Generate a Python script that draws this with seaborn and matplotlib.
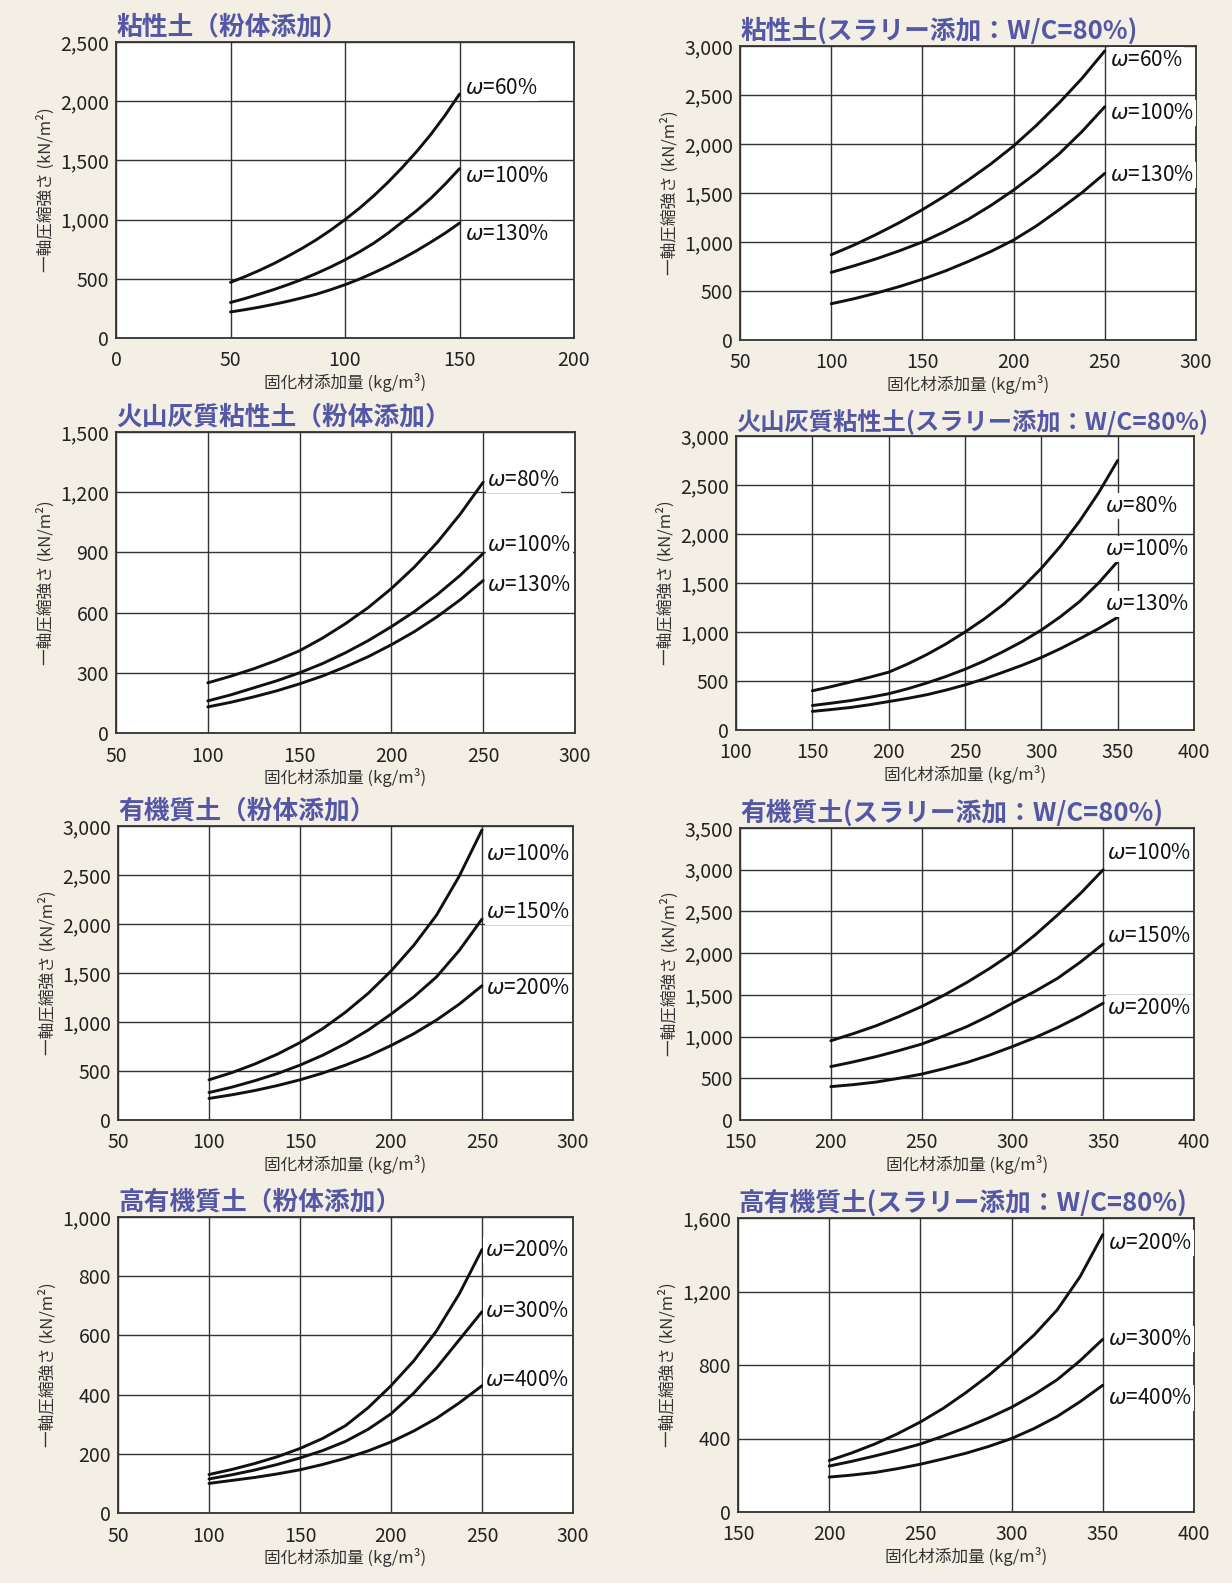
import matplotlib
matplotlib.use("Agg")
import matplotlib.pyplot as plt
import seaborn as sns
import pandas as pd
from matplotlib.ticker import FuncFormatter, MultipleLocator

# ---------------- data ----------------
# Panel 1: 粘性土（粉体添加）
p1_title = "粘性土（粉体添加）"
p1_x = [50, 56.25, 62.5, 68.75, 75, 81.25, 87.5, 93.75, 100,
        106.25, 112.5, 118.75, 125, 131.25, 137.5, 143.75, 150]
p1_w60 = [470, 518, 570, 627, 690, 757, 830, 911, 1000,
          1095, 1200, 1315, 1440, 1574, 1720, 1882, 2060]
p1_w100 = [300, 333, 370, 408, 450, 495, 545, 600, 660,
           727, 800, 885, 980, 1075, 1180, 1300, 1430]
p1_w130 = [220, 239, 260, 284, 310, 339, 370, 408, 450,
           497, 550, 607, 670, 737, 810, 886, 970]
p1_names = ["60%", "100%", "130%"]

# Panel 2: 粘性土(スラリー添加：W/C=80%)
p2_title = "粘性土(スラリー添加：W/C=80%)"
p2_x = [100, 112.5, 125, 137.5, 150, 162.5, 175, 187.5, 200, 212.5, 225, 237.5, 250]
p2_w60 = [870, 969, 1080, 1199, 1330, 1472, 1630, 1796, 1980, 2190, 2420, 2670, 2950]
p2_w100 = [690, 757, 830, 911, 1000, 1109, 1230, 1372, 1530, 1705, 1900, 2127, 2380]
p2_w130 = [370, 421, 480, 546, 620, 704, 800, 903, 1020, 1164, 1330, 1504, 1700]
p2_names = ["60%", "100%", "130%"]

# Panel 3: 火山灰質粘性土（粉体添加）
p3_title = "火山灰質粘性土（粉体添加）"
p3_x = [100, 112.5, 125, 137.5, 150, 162.5, 175, 187.5, 200, 212.5, 225, 237.5, 250]
p3_w80 = [250, 283, 320, 362, 410, 473, 545, 626, 720, 827, 950, 1091, 1250]
p3_w100 = [160, 190, 225, 260, 300, 346, 400, 461, 530, 605, 690, 786, 895]
p3_w130 = [130, 153, 180, 210, 245, 284, 330, 381, 440, 505, 580, 664, 760]
p3_names = ["80%", "100%", "130%"]

# Panel 4: 火山灰質粘性土(スラリー添加：W/C=80%)
p4_title = "火山灰質粘性土(スラリー添加：W/C=80%)"
p4_x = [150, 162.5, 175, 187.5, 200, 212.5, 225, 237.5, 250,
        262.5, 275, 287.5, 300, 312.5, 325, 337.5, 350]
p4_w80 = [400, 443, 490, 538, 590, 674, 770, 878, 1000,
          1132, 1280, 1453, 1650, 1875, 2130, 2420, 2750]
p4_w100 = [250, 274, 300, 333, 370, 421, 480, 546, 620,
           704, 800, 903, 1020, 1156, 1310, 1500, 1720]
p4_w130 = [190, 209, 230, 258, 290, 323, 360, 407, 460,
           521, 590, 661, 740, 830, 930, 1034, 1150]
p4_names = ["80%", "100%", "130%"]

# Panel 5: 有機質土（粉体添加）
p5_title = "有機質土（粉体添加）"
p5_x = [100, 112.5, 125, 137.5, 150, 162.5, 175, 187.5, 200, 212.5, 225, 237.5, 250]
p5_w100 = [410, 483, 570, 671, 790, 932, 1100, 1293, 1520, 1782, 2090, 2488, 2960]
p5_w150 = [280, 335, 400, 473, 560, 661, 780, 918, 1080, 1256, 1460, 1730, 2050]
p5_w200 = [220, 257, 300, 351, 410, 479, 560, 652, 760, 880, 1020, 1182, 1370]
p5_names = ["100%", "150%", "200%"]

# Panel 6: 有機質土(スラリー添加：W/C=80%)
p6_title = "有機質土(スラリー添加：W/C=80%)"
p6_x = [200, 212.5, 225, 237.5, 250, 262.5, 275, 287.5, 300, 312.5, 325, 337.5, 350]
p6_w100 = [950, 1036, 1130, 1240, 1360, 1498, 1650, 1817, 2000, 2218, 2460, 2716, 3000]
p6_w150 = [640, 697, 760, 832, 910, 1010, 1120, 1252, 1400, 1543, 1700, 1894, 2110]
p6_w200 = [400, 424, 455, 500, 550, 616, 690, 779, 880, 988, 1110, 1247, 1400]
p6_names = ["100%", "150%", "200%"]

# Panel 7: 高有機質土（粉体添加）
p7_title = "高有機質土（粉体添加）"
p7_x = [100, 112.5, 125, 137.5, 150, 162.5, 175, 187.5, 200, 212.5, 225, 237.5, 250]
p7_w200 = [130, 147, 167, 190, 218, 252, 295, 356, 430, 514, 615, 740, 890]
p7_w300 = [115, 129, 145, 164, 186, 211, 242, 283, 335, 405, 490, 585, 680]
p7_w400 = [100, 110, 120, 132, 146, 164, 185, 210, 240, 277, 320, 372, 430]
p7_names = ["200%", "300%", "400%"]

# Panel 8: 高有機質土(スラリー添加：W/C=80%)
p8_title = "高有機質土(スラリー添加：W/C=80%)"
p8_x = [200, 212.5, 225, 237.5, 250, 262.5, 275, 287.5, 300, 312.5, 325, 337.5, 350]
p8_w200 = [280, 322, 370, 426, 490, 564, 650, 744, 850, 965, 1100, 1280, 1510]
p8_w300 = [250, 276, 305, 336, 370, 413, 460, 512, 570, 640, 720, 823, 940]
p8_w400 = [190, 201, 215, 236, 260, 289, 320, 357, 400, 455, 520, 600, 690]
p8_names = ["200%", "300%", "400%"]

x_label = "固化材添加量 (kg/m³)"
y_label = "一軸圧縮強さ (kN/m²)"

# ---------------- layout / style ----------------
W, H = 1232, 1583
BG = "#f4efe4"
TITLE_C = "#5457a6"
GRID_C = "#333333"

sns.set_style("white")
plt.rcParams["font.family"] = ["Noto Sans CJK JP", "DejaVu Sans"]
plt.rcParams["mathtext.fontset"] = "dejavusans"

fig = plt.figure(figsize=(W / 100, H / 100), dpi=100, facecolor=BG)

panels = [
    dict(title=p1_title, x=p1_x, ys=[p1_w60, p1_w100, p1_w130], names=p1_names,
         box=(116, 42, 574, 338), xlim=(0, 200), xs=50, ylim=(0, 2500), ys_=500,
         laby=[2110, 1370, 880], labdx=4, tfs=18.5),
    dict(title=p2_title, x=p2_x, ys=[p2_w60, p2_w100, p2_w130], names=p2_names,
         box=(740, 46, 1196, 340), xlim=(50, 300), xs=50, ylim=(0, 3000), ys_=500,
         laby=[2857, 2316, 1684], labdx=4, tfs=18.5),
    dict(title=p3_title, x=p3_x, ys=[p3_w80, p3_w100, p3_w130], names=p3_names,
         box=(116, 432, 575, 733), xlim=(50, 300), xs=50, ylim=(0, 1500), ys_=300,
         laby=[1261, 937, 737], labdx=3, tfs=18.5),
    dict(title=p4_title, x=p4_x, ys=[p4_w80, p4_w100, p4_w130], names=p4_names,
         box=(736, 436, 1194, 730), xlim=(100, 400), xs=50, ylim=(0, 3000), ys_=500,
         laby=[2286, 1847, 1286], labdx=-9, tfs=17.5),
    dict(title=p5_title, x=p5_x, ys=[p5_w100, p5_w150, p5_w200], names=p5_names,
         box=(118, 826, 573, 1120), xlim=(50, 300), xs=50, ylim=(0, 3000), ys_=500,
         laby=[2714, 2122, 1347], labdx=3, tfs=18.5),
    dict(title=p6_title, x=p6_x, ys=[p6_w100, p6_w150, p6_w200], names=p6_names,
         box=(740, 828, 1194, 1120), xlim=(150, 400), xs=50, ylim=(0, 3500), ys_=500,
         laby=[3201, 2206, 1343], labdx=3, tfs=18.5),
    dict(title=p7_title, x=p7_x, ys=[p7_w200, p7_w300, p7_w400], names=p7_names,
         box=(118, 1217, 573, 1513), xlim=(50, 300), xs=50, ylim=(0, 1000), ys_=200,
         laby=[888, 682, 449], labdx=2, tfs=18.5),
    dict(title=p8_title, x=p8_x, ys=[p8_w200, p8_w300, p8_w400], names=p8_names,
         box=(738, 1218, 1194, 1512), xlim=(150, 400), xs=50, ylim=(0, 1600), ys_=400,
         laby=[1464, 941, 620], labdx=4, tfs=18.5),
]

fmt = FuncFormatter(lambda v, p: f"{int(round(v)):,}")

for pn in panels:
    l, t, r, b = pn["box"]
    ax = fig.add_axes([l / W, 1 - b / H, (r - l) / W, (b - t) / H])
    ax.set_facecolor("white")

    rows = []
    for name, yv in zip(pn["names"], pn["ys"]):
        for xv, v in zip(pn["x"], yv):
            rows.append({"x": xv, "y": v, "s": name})
    df = pd.DataFrame(rows)
    sns.lineplot(data=df, x="x", y="y", hue="s", units="s", estimator=None,
                 palette={n: "#111111" for n in pn["names"]}, legend=False,
                 linewidth=2.1, sort=False, ax=ax, zorder=3)
    for ln in ax.lines:
        ln.set_solid_joinstyle("round")

    ax.set_xlim(*pn["xlim"])
    ax.set_ylim(*pn["ylim"])
    ax.xaxis.set_major_locator(MultipleLocator(pn["xs"]))
    ax.yaxis.set_major_locator(MultipleLocator(pn["ys_"]))
    ax.yaxis.set_major_formatter(fmt)
    ax.grid(True, color=GRID_C, linewidth=1.0)
    ax.set_axisbelow(True)
    for sp in ax.spines.values():
        sp.set_color(GRID_C)
        sp.set_linewidth(1.3)
    ax.tick_params(axis="both", length=0, labelsize=14, colors="#222222")
    ax.tick_params(axis="x", pad=9)
    ax.tick_params(axis="y", pad=5)
    ax.set_xlabel(x_label, fontsize=12, color="#333333", labelpad=1)
    ax.set_ylabel(y_label, fontsize=12, color="#333333", labelpad=4)

    ax.annotate(pn["title"], xy=(0, 1), xycoords="axes fraction", xytext=(0, 1),
                textcoords="offset points", ha="left", va="bottom",
                fontsize=pn["tfs"], fontweight="bold", color=TITLE_C,
                annotation_clip=False)

    xend = pn["x"][-1]
    for name, ly in zip(pn["names"], pn["laby"]):
        ax.annotate(r"$\omega$=" + name, xy=(xend, ly), xytext=(pn["labdx"], 0),
                    textcoords="offset points", ha="left", va="center",
                    fontsize=15, color="#111111", zorder=4,
                    bbox=dict(boxstyle="square,pad=0.08", fc="white", ec="none"))

fig.savefig("out.png", dpi=100, facecolor=BG)
